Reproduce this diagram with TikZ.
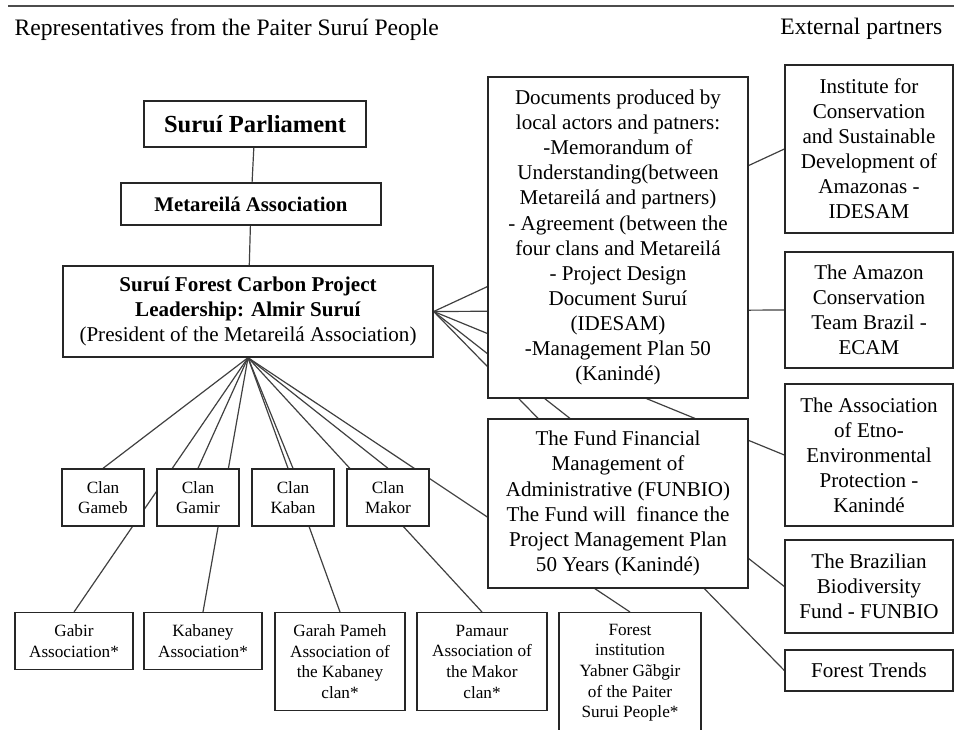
\documentclass[tikz,border=0pt]{standalone}
\usepackage{fontspec}
\setmainfont{Liberation Serif}
\usetikzlibrary{positioning, backgrounds}
\tikzstyle{block} = [draw=black!85, fill=white, rectangle, align=center,
    inner sep=0pt, line width=1pt, font=\boxfont]
\tikzstyle{clan} = [font=\clanfont]
\tikzstyle{link} = [draw=black!75, line width=0.9pt]
\tikzset{dims/.style 2 args={minimum width=#1*0.75pt, minimum height=#2*0.75pt}}
\newcommand{\boxfont}{\fontsize{15.8pt}{18.8pt}\selectfont}
\newcommand{\clanfont}{\fontsize{12.9pt}{15.4pt}\selectfont}
\newcommand{\headfont}{\fontsize{17.7pt}{20pt}\selectfont}
\newcommand{\parlfont}{\fontsize{18.4pt}{21pt}\selectfont\bfseries}
\newcommand{\metafont}{\fontsize{15.6pt}{18.8pt}\selectfont\bfseries}

\begin{document}
\begin{tikzpicture}[x=0.75pt, y=-0.75pt, node distance=71.25pt]
    \useasboundingbox (0,0) rectangle (954,729);
    \clip (0,0) rectangle (954,729);
    \coordinate (rulestart) at (8,6);
    \coordinate (ruleend) at (954,6);
    \draw [black!70, line width=1.6pt] (rulestart) -- (ruleend);
    \node [anchor=west, font=\headfont] (ownside) at (10,30) {Representatives from the Paiter Suruí People};
    \node [anchor=east, font=\headfont] (partners) at (947,29) {External partners};

    \node [block, dims={222}{46}, font=\parlfont] (parl) at (255,124) {Suruí Parliament};
    \node [block, dims={260}{42}, font=\metafont] (meta) at (251,204) {Metareilá Association};
    \node [block, dims={370}{91}] (lead) at (248,311.5)
        {\textbf{Suruí Forest Carbon Project}\\\textbf{Leadership: Almir Suruí}\\(President of the Metareilá Association)};

    \node [block, clan, dims={82}{57}] (gameb) at (103,497.5) {Clan\\Gameb};
    \node [block, clan, dims={82}{57}, right of=gameb] (gamir) {Clan\\Gamir};
    \node [block, clan, dims={82}{57}, right of=gamir] (kaban) {Clan\\Kaban};
    \node [block, clan, dims={82}{57}, right of=kaban] (makor) {Clan\\Makor};

    \node [block, clan, dims={118}{57}, anchor=north] (gabir) at (74,612) {Gabir\\Association*};
    \node [block, clan, dims={118}{57}, anchor=north] (kabaney) at (203,612) {Kabaney\\Association*};
    \node [block, clan, dims={130}{98}, anchor=north] (garah) at (340,612) {Garah Pameh\\Association of\\the Kabaney\\clan*};
    \node [block, clan, dims={130}{98}, anchor=north] (pamaur) at (482,612) {Pamaur\\Association of\\the Makor\\clan*};
    \node [block, clan, dims={142}{120}, anchor=north] (forinst) at (630,612) {Forest\\institution\\Yabner Gãbgir\\of the Paiter\\Surui People*};

    \node [block, dims={260}{321}] (docs) at (618,237.5) {Documents produced by\\local actors and patners:\\-Memorandum of\\Understanding(between\\Metareilá and partners)\\- Agreement (between the\\four clans and Metareilá\\- Project Design\\Document Suruí\\(IDESAM)\\-Management Plan 50\\(Kanindé)};
    \node [block, dims={260}{169}] (fund) at (618,503.5) {The Fund Financial\\Management of\\Administrative (FUNBIO)\\The Fund will~ finance the\\Project Management Plan\\50 Years (Kanindé)};

    \node [block, dims={168}{168}] (idesam) at (869,149) {Institute for\\Conservation\\and Sustainable\\Development of\\Amazonas -\\IDESAM};
    \node [block, dims={168}{116}] (ecam) at (869,310) {The Amazon\\Conservation\\Team Brazil -\\ECAM};
    \node [block, dims={168}{142}] (etno) at (869,455) {The Association\\of Etno-\\Environmental\\Protection -\\Kanindé};
    \node [block, dims={168}{93}] (funbio) at (869,586.5) {The Brazilian\\Biodiversity\\Fund - FUNBIO};
    \node [block, dims={168}{41}] (trends) at (869,670.5) {Forest Trends};

    \begin{scope}[on background layer]
        \draw [link] (parl) -- (meta);
        \draw [link] (meta) -- (lead);
        \foreach \n in {gameb, gabir, gamir, kabaney, kaban, garah, makor, pamaur, forinst}
            \draw [link] (lead.south) -- (\n.north);
        \foreach \n in {idesam, ecam, etno, funbio, trends}
            \draw [link] (lead.east) -- (\n.west);
    \end{scope}
\end{tikzpicture}
\end{document}
